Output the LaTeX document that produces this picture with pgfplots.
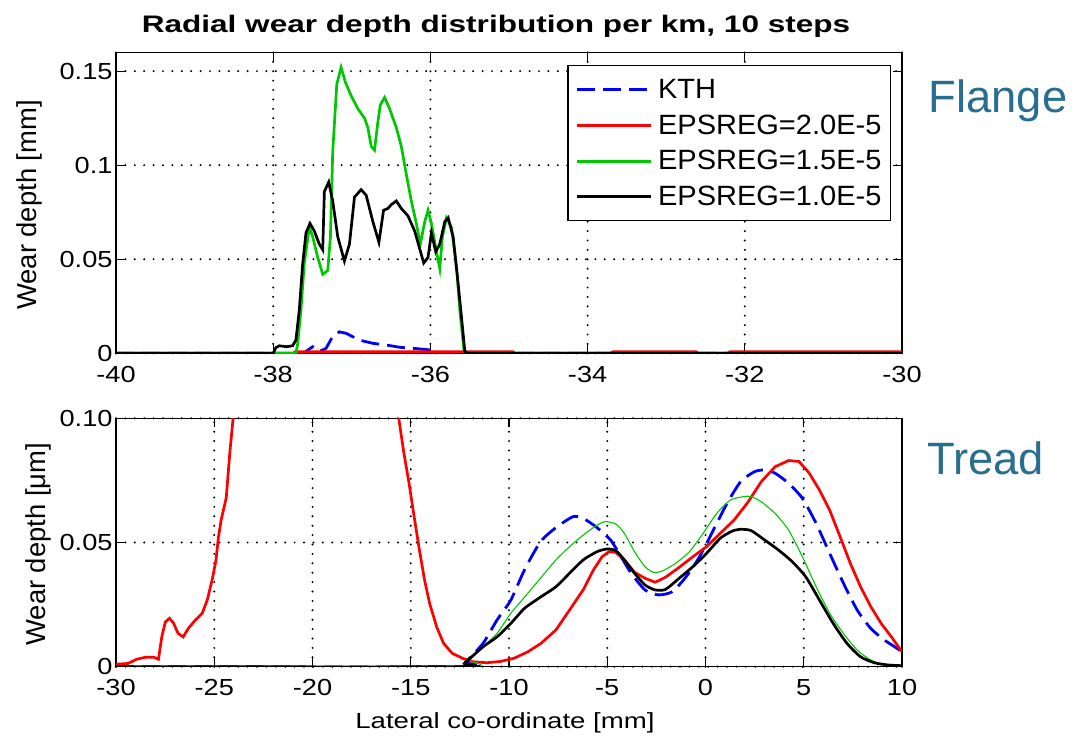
\documentclass[border=0pt]{standalone}
\usepackage{fontspec}
\setmainfont{Liberation Sans}
\newfontfamily\tickfont{Liberation Sans}[FakeStretch=1.17]
\newfontfamily\legfont{Liberation Sans}[FakeStretch=1.04]
\newfontfamily\titlefont{Liberation Sans}[FakeStretch=1.32]
\newfontfamily\xlabfont{Liberation Sans}[FakeStretch=1.26]
\usepackage{pgfplots}
\pgfplotsset{compat=1.18}
\definecolor{mblue}{RGB}{0,0,255}
\definecolor{mred}{RGB}{255,0,0}
\definecolor{mgreen}{RGB}{0,200,0}
\definecolor{slide}{RGB}{40,110,145}

\pgfplotsset{
  myaxis/.style={
    scale only axis, width=786bp,
    axis line style={black, line width=1.4bp},
    tick style={black, line width=1.2bp},
    major tick length=9bp,
    tick align=inside,
    grid=major,
    grid style={black, line width=2.2bp, line cap=round, dash pattern=on 0bp off 9.4bp},
    tick label style={font=\tickfont\fontsize{23.3}{28}\selectfont},
    xticklabel style={yshift=-9bp},
  },
  kth/.style={mblue, line width=2.8bp, dash pattern=on 18bp off 8bp},
  eps20/.style={mred, line width=2.7bp},
  eps15/.style={mgreen, line width=2.7bp},
  eps10/.style={black, line width=2.7bp},
}

\begin{document}
\begin{tikzpicture}
\path[use as bounding box] (0bp,0bp) rectangle (1078bp,737bp);

% ---------------- Flange ----------------
\begin{axis}[myaxis, at={(116bp,383.7bp)}, anchor=south west, height=301bp,
  xmin=-40, xmax=-30, ymin=0, ymax=0.16,
  xtick={-40,-38,-36,-34,-32,-30}, xticklabels={-40,-38,-36,-34,-32,-30},
  ytick={0,0.05,0.1,0.15}, yticklabels={0,0.05,0.1,0.15},
  title={Radial wear depth distribution per km, 10 steps},
  title style={at={(axis description cs:0.4835,1.0465)}, anchor=base,
    font=\titlefont\bfseries\fontsize{24}{28}\selectfont},
  ylabel={Wear depth [mm]},
  ylabel style={at={(axis description cs:-0.1107,0.4927)}, anchor=center,
    font=\fontsize{27.5}{32}\selectfont},
  legend cell align=left,
  legend style={at={(axis description cs:1,1)}, anchor=north east,
    xshift=-11bp, yshift=-13bp, draw=black, line width=1.2bp,
    font=\legfont\fontsize{28}{33}\selectfont,
    inner xsep=7bp, inner ysep=11bp, row sep=11bp, column sep=4bp},
  legend image code/.code={\draw[#1, line width=3bp] (0bp,0bp) -- (74bp,0bp);},
]
\addplot[kth] coordinates {
(-40,0) (-37.62,0) (-37.583,0.001) (-37.498,0.0035) (-37.413,0.001) (-37.328,0.0026)
(-37.243,0.009) (-37.157,0.0114) (-37.072,0.0106) (-36.902,0.007) (-36.732,0.0053)
(-36.562,0.0044) (-36.391,0.0032) (-36.179,0.0025) (-36.009,0.0018) (-35.881,0.0004)
(-35.8,0) (-30,0)};
\addlegendentry{KTH}
\addplot[eps20] coordinates {
(-40,0) (-37.75,0) (-37.72,0.0008) (-34.95,0.0008) (-34.92,0) (-33.71,0)
(-33.68,0.0008) (-32.62,0.0008) (-32.59,0) (-32.22,0) (-32.19,0.0008) (-30,0.0008)};
\addlegendentry{EPSREG=2.0E-5}
\addplot[eps15] coordinates {
(-40,0) (-37.711,0) (-37.689,0.005) (-37.647,0.023) (-37.604,0.048) (-37.540,0.067)
(-37.498,0.062) (-37.434,0.051) (-37.370,0.042) (-37.306,0.044) (-37.272,0.062)
(-37.243,0.107) (-37.191,0.143) (-37.136,0.152) (-37.081,0.144) (-37.009,0.137)
(-36.923,0.130) (-36.838,0.125) (-36.796,0.120) (-36.753,0.110) (-36.711,0.108)
(-36.668,0.123) (-36.638,0.132) (-36.583,0.136) (-36.519,0.130) (-36.434,0.120)
(-36.370,0.110) (-36.306,0.095) (-36.243,0.081) (-36.179,0.069) (-36.128,0.058)
(-36.072,0.070) (-36.030,0.076) (-35.987,0.069) (-35.923,0.054) (-35.881,0.045)
(-35.847,0.062) (-35.796,0.072) (-35.732,0.067) (-35.668,0.046) (-35.626,0.023)
(-35.574,0.002) (-35.540,0) (-30,0)};
\addlegendentry{EPSREG=1.5E-5}
\addplot[eps10] coordinates {
(-40,0) (-38,0) (-37.966,0.003) (-37.923,0.004) (-37.83,0.0035) (-37.753,0.004) (-37.711,0.007)
(-37.668,0.023) (-37.626,0.047) (-37.583,0.064) (-37.532,0.069) (-37.477,0.065)
(-37.413,0.058) (-37.370,0.055) (-37.349,0.086) (-37.294,0.091) (-37.243,0.081)
(-37.179,0.062) (-37.094,0.049) (-37.030,0.058) (-36.966,0.083) (-36.881,0.087)
(-36.817,0.084) (-36.732,0.070) (-36.655,0.059) (-36.596,0.076) (-36.540,0.077)
(-36.498,0.079) (-36.434,0.081) (-36.370,0.077) (-36.285,0.073) (-36.200,0.065)
(-36.085,0.048) (-36.030,0.051) (-35.987,0.064) (-35.932,0.054) (-35.881,0.058)
(-35.817,0.070) (-35.774,0.072) (-35.711,0.062) (-35.647,0.037) (-35.604,0.019)
(-35.562,0.001) (-35.53,0) (-30,0)};
\addlegendentry{EPSREG=1.0E-5}
\end{axis}

% ---------------- Tread ----------------
\begin{axis}[myaxis, at={(116bp,70.3bp)}, anchor=south west, height=248.4bp,
  xmin=-30, xmax=10, ymin=0, ymax=0.1,
  xtick={-30,-25,-20,-15,-10,-5,0,5,10}, xticklabels={-30,-25,-20,-15,-10,-5,0,5,10},
  ytick={0,0.05,0.1}, yticklabels={0,0.05,0.10},
  xlabel={Lateral co-ordinate [mm]},
  xlabel style={at={(axis description cs:0.4949,-0.2474)}, anchor=base,
    font=\xlabfont\fontsize{22}{26}\selectfont},
  ylabel={Wear depth [μm]},
  ylabel style={at={(axis description cs:-0.0992,0.4928)}, anchor=center,
    font=\fontsize{27.5}{32}\selectfont},
]
\addplot[kth, smooth, tension=0.4] coordinates {
(-30,0) (-12.5,0) (-12.19,0.002) (-11.32,0.0094) (-10.61,0.0188) (-9.91,0.0268)
(-9.21,0.039) (-8.4,0.0503) (-7.61,0.056) (-6.74,0.0604) (-6.22,0.0597) (-5.52,0.056)
(-4.83,0.051) (-4.30,0.0443) (-3.78,0.0376) (-3.08,0.0309) (-2.39,0.0289) (-1.69,0.0302)
(-0.99,0.0362) (-0.30,0.0443) (0.40,0.055) (1.10,0.0658) (1.79,0.0745) (2.49,0.0785)
(3.01,0.0792) (3.54,0.0779) (4.23,0.0738) (4.93,0.0678) (5.63,0.0577) (6.32,0.0456)
(7.02,0.0336) (7.72,0.0228) (8.41,0.0154) (9.11,0.0107) (9.63,0.008) (10,0.006)};
\addplot[eps20] coordinates {
(-30,0.001) (-29.39,0.0013) (-28.95,0.003) (-28.5,0.0038) (-28.07,0.0038) (-27.84,0.003)
(-27.67,0.012) (-27.49,0.018) (-27.28,0.0195) (-27.07,0.0175) (-26.84,0.0134)
(-26.58,0.012) (-26.32,0.0154) (-25.96,0.0188) (-25.61,0.0215) (-25.35,0.027)
(-25.09,0.0356) (-24.91,0.043) (-24.79,0.052) (-24.65,0.059) (-24.39,0.068)
(-24.21,0.086) (-24.04,0.1) (-23.8,0.13) (-23,0.2) (-21.5,0.27) (-19.5,0.29)
(-17.5,0.25) (-16.3,0.17) (-15.8,0.12) (-15.61,0.1) (-15.35,0.086) (-15.09,0.074)
(-14.82,0.060) (-14.56,0.047) (-14.30,0.035) (-14.04,0.0255) (-13.68,0.016)
(-13.33,0.0094) (-12.89,0.0054) (-12.37,0.0034) (-11.84,0.002) (-11.14,0.0016)
(-10.44,0.0021) (-9.74,0.0034) (-9.04,0.006) (-8.37,0.0094) (-7.61,0.0148)
(-6.92,0.0228) (-6.22,0.031) (-5.70,0.039) (-5.26,0.0443) (-4.91,0.0463) (-4.56,0.046)
(-4.13,0.043) (-3.61,0.038) (-3.08,0.0356) (-2.56,0.034) (-2.04,0.036) (-1.34,0.040)
(-0.64,0.0443) (0.05,0.0483) (0.75,0.0537) (1.45,0.059) (2.14,0.066) (2.84,0.0745)
(3.54,0.0805) (4.23,0.083) (4.76,0.0826) (5.28,0.0779) (5.80,0.0711) (6.32,0.063)
(6.85,0.0523) (7.37,0.0416) (7.89,0.0322) (8.41,0.0242) (8.94,0.0174) (9.46,0.012)
(10,0.006)};
\addplot[mgreen, line width=1.1bp, smooth, tension=0.4] coordinates {
(-30,0) (-12.4,0) (-12.02,0.0027) (-11.32,0.008) (-10.61,0.0134) (-9.91,0.0215)
(-9.21,0.028) (-8.4,0.0356) (-7.61,0.043) (-6.92,0.0483) (-6.22,0.053) (-5.52,0.057)
(-5.09,0.0584) (-4.56,0.0574) (-4.13,0.0537) (-3.61,0.0463) (-3.08,0.0403)
(-2.65,0.038) (-2.21,0.0385) (-1.52,0.0416) (-0.82,0.0463) (-0.12,0.0537) (0.57,0.0617)
(1.27,0.0671) (1.97,0.0685) (2.32,0.0685) (2.84,0.0664) (3.54,0.0617) (4.23,0.055)
(4.93,0.0443) (5.63,0.0322) (6.32,0.0215) (7.02,0.0134) (7.72,0.0067) (8.41,0.0027)
(9.11,0.0007) (10,0.0003)};
\addplot[eps10, smooth, tension=0.4] coordinates {
(-30,0) (-12.6,0) (-12.28,0.0013) (-11.32,0.008) (-10.61,0.012) (-9.91,0.0174)
(-9.21,0.0235) (-8.4,0.028) (-7.61,0.0322) (-6.92,0.0376) (-6.22,0.043) (-5.52,0.0463)
(-5.0,0.0474) (-4.56,0.0467) (-4.13,0.043) (-3.61,0.0376) (-3.08,0.0329) (-2.56,0.0309)
(-2.04,0.0311) (-1.34,0.0356) (-0.64,0.0403) (0.05,0.0456) (0.75,0.0517) (1.36,0.0546)
(1.79,0.0553) (2.32,0.0548) (3.01,0.051) (3.71,0.047) (4.41,0.0423) (5.10,0.0362)
(5.80,0.0268) (6.50,0.0174) (7.20,0.0094) (7.89,0.004) (8.59,0.0016) (9.29,0.0007)
(10,0.0004)};
\end{axis}

\node[anchor=base west, inner sep=0pt, text=slide, font=\fontsize{45.5}{50}\selectfont] at (928.5bp,624.3bp) {Flange};
\node[anchor=base west, inner sep=0pt, text=slide, font=\fontsize{45.5}{50}\selectfont] at (927bp,262bp) {Tread};
\end{tikzpicture}
\end{document}
